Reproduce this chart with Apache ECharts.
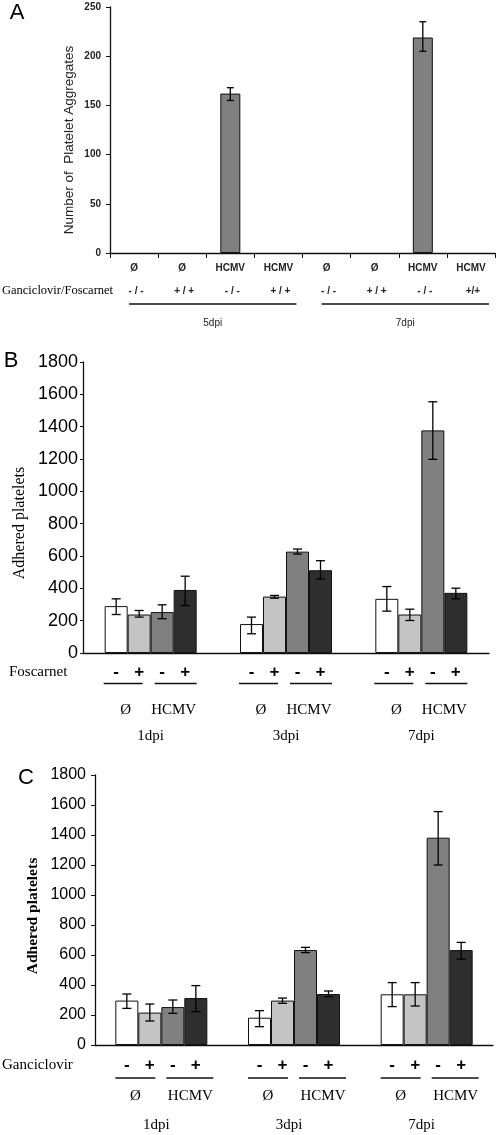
<!DOCTYPE html>
<html><head><meta charset="utf-8">
<script src="https://cdn.jsdelivr.net/npm/echarts@6/dist/echarts.min.js"></script>
<style>html,body{margin:0;padding:0;background:#fff}#c{width:500px;height:1135px}</style>
</head><body><div id="c"></div>
<script>
// ---------- Panel A data ----------
const aConditions = ['Ø','Ø','HCMV','HCMV','Ø','Ø','HCMV','HCMV'];
const aTreatments = ['- / -','+ / +','- / -','+ / +','- / -','+ / +','- / -','+/+'];
const aValues = [0,0,162,0,0,0,219,0];
const aErrLow = [null,null,155,null,null,null,205,null];
const aErrHigh = [null,null,168,null,null,null,235,null];
const aGroups = ['5dpi','7dpi'];
const aGroupCats = [[0,3],[4,7]];
const aRowLabel = 'Ganciclovir/Foscarnet';
const aYTitle = 'Number of  Platelet Aggregates';

// ---------- Panel B data ----------
const days = ['1dpi','3dpi','7dpi'];
const bNoneMinus = [290,179,335];
const bNoneMinusLow = [238,119,259];
const bNoneMinusHigh = [335,222,411];
const bNonePlus = [238,349,238];
const bNonePlusLow = [222,339,201];
const bNonePlusHigh = [263,356,271];
const bHcmvMinus = [253,627,1377];
const bHcmvMinusLow = [212,612,1198];
const bHcmvMinusHigh = [298,643,1554];
const bHcmvPlus = [390,512,372];
const bHcmvPlusLow = [294,458,335];
const bHcmvPlusHigh = [475,571,401];
const bRowLabel = 'Foscarnet';

// ---------- Panel C data ----------
const cNoneMinus = [296,182,338];
const cNoneMinusLow = [244,122,256];
const cNoneMinusHigh = [340,229,416];
const cNonePlus = [216,296,338];
const cNonePlusLow = [160,278,260];
const cNonePlusHigh = [273,313,416];
const cHcmvMinus = [253,633,1382];
const cHcmvMinusLow = [211,616,1200];
const cHcmvMinusHigh = [300,651,1556];
const cHcmvPlus = [313,340,633];
const cHcmvPlusLow = [222,322,573];
const cHcmvPlusHigh = [396,360,684];
const cRowLabel = 'Ganciclovir';

const signs = ['-','+','-','+'];
const pairLabels = ['Ø','HCMV'];
const yTitleBC = 'Adhered platelets';

// ---------- styles ----------
const SANS = '"Liberation Sans", Arial, sans-serif';
const SERIF = '"Liberation Serif", "Times New Roman", serif';
const fills = ['#ffffff','#c4c4c4','#808080','#2e2e2e'];
const BW = 23;
const offs = [-1.5,-0.5,0.5,1.5].map(k => k*BW);

function errRender(offset, cap) {
  return function (params, api) {
    const c = api.value(0);
    const x = api.coord([c, 0])[0] + offset;
    const yl = api.coord([c, api.value(1)])[1];
    const yh = api.coord([c, api.value(2)])[1];
    const s = {stroke:'#000', lineWidth:1.3};
    return {type:'group', children:[
      {type:'line', shape:{x1:x,y1:yh,x2:x,y2:yl}, style:s},
      {type:'line', shape:{x1:x-cap/2,y1:yh,x2:x+cap/2,y2:yh}, style:s},
      {type:'line', shape:{x1:x-cap/2,y1:yl,x2:x+cap/2,y2:yl}, style:s}
    ]};
  };
}
function errData(low, high) {
  const d = [];
  low.forEach((l, i) => { if (l != null) d.push([i, l, high[i]]); });
  return d;
}
// zero-height bars are drawn without an outline (nothing visible, as in the figure)
const barData = vals => vals.map(v => v === 0 ? {value:0, itemStyle:{borderWidth:0, opacity:0}} : v);

const axisLineStyle = {lineStyle:{color:'#111', width:1.3}};
const plain = v => String(v);

const bSeriesVals = [bNoneMinus,bNonePlus,bHcmvMinus,bHcmvPlus];
const bLows = [bNoneMinusLow,bNonePlusLow,bHcmvMinusLow,bHcmvPlusLow];
const bHighs = [bNoneMinusHigh,bNonePlusHigh,bHcmvMinusHigh,bHcmvPlusHigh];
const cSeriesVals = [cNoneMinus,cNonePlus,cHcmvMinus,cHcmvPlus];
const cLows = [cNoneMinusLow,cNonePlusLow,cHcmvMinusLow,cHcmvPlusLow];
const cHighs = [cNoneMinusHigh,cNonePlusHigh,cHcmvMinusHigh,cHcmvPlusHigh];

const series = [];
series.push({type:'bar', xAxisIndex:0, yAxisIndex:0, data:barData(aValues), barWidth:20,
  itemStyle:{color:'#808080', borderColor:'#111', borderWidth:1}, silent:true});
series.push({type:'custom', xAxisIndex:0, yAxisIndex:0, data:errData(aErrLow,aErrHigh),
  renderItem:errRender(0, 7), silent:true, z:5});
[[1,bSeriesVals,bLows,bHighs],[2,cSeriesVals,cLows,cHighs]].forEach(([gi, vals, lows, highs]) => {
  vals.forEach((v, k) => {
    series.push({type:'bar', xAxisIndex:gi, yAxisIndex:gi, data:barData(v), barWidth:BW, barGap:'0%',
      itemStyle:{color:fills[k], borderColor:'#111', borderWidth:1}, silent:true});
  });
  vals.forEach((v, k) => {
    series.push({type:'custom', xAxisIndex:gi, yAxisIndex:gi, data:errData(lows[k],highs[k]),
      renderItem:errRender(offs[k], 9), silent:true, z:5});
  });
});

const option = {
  animation:false,
  backgroundColor:'#fff',
  grid:[
    {left:110, top:7, width:385, height:246},
    {left:83, top:362, width:406, height:291},
    {left:95, top:775, width:398, height:270}
  ],
  xAxis:[
    {type:'category', gridIndex:0, data:aConditions, axisLine:axisLineStyle,
      axisTick:{show:true, length:5, lineStyle:{color:'#111'}},
      axisLabel:{fontFamily:SANS, fontSize:10, fontWeight:'bold', color:'#222', margin:10}},
    {type:'category', gridIndex:1, data:days, axisLine:axisLineStyle, axisTick:{show:false}, axisLabel:{show:false}},
    {type:'category', gridIndex:2, data:days, axisLine:axisLineStyle, axisTick:{show:false}, axisLabel:{show:false}}
  ],
  yAxis:[
    {type:'value', gridIndex:0, min:0, max:250, interval:50, axisLine:{show:true, ...axisLineStyle},
      axisTick:{show:true, length:4, lineStyle:{color:'#111'}}, splitLine:{show:false},
      axisLabel:{fontFamily:SANS, fontSize:10, fontWeight:'bold', color:'#222', margin:9, formatter:plain}},
    {type:'value', gridIndex:1, min:0, max:1800, interval:200, axisLine:{show:true, ...axisLineStyle},
      axisTick:{show:true, length:3, lineStyle:{color:'#111'}}, splitLine:{show:false},
      axisLabel:{fontFamily:SANS, fontSize:18, color:'#000', margin:5, formatter:plain}},
    {type:'value', gridIndex:2, min:0, max:1800, interval:200, axisLine:{show:true, ...axisLineStyle},
      axisTick:{show:true, length:4, lineStyle:{color:'#111'}}, splitLine:{show:false},
      axisLabel:{fontFamily:SANS, fontSize:16, color:'#000', margin:9, formatter:plain}}
  ],
  series:series
};

const chart = echarts.init(document.getElementById('c'), null, {renderer:'canvas'});
chart.setOption(option);

// ---------- annotations positioned from the axes ----------
const g = [];
function txt(x, y, text, font, opts) {
  g.push(Object.assign({type:'text', x:x, y:y, silent:true,
    style:Object.assign({text:text, font:font, fill:'#000', align:'center', verticalAlign:'middle'}, opts && opts.style || {})},
    opts && opts.el || {}));
}
function hline(x1, x2, y) {
  g.push({type:'line', silent:true, shape:{x1:x1,y1:y,x2:x2,y2:y}, style:{stroke:'#111', lineWidth:1.3}});
}
const px = (axis, i) => chart.convertToPixel({xAxisIndex:axis}, i);

// Panel letters
txt(17, 13, 'A', '22px ' + SANS);
txt(11, 361, 'B', '22px ' + SANS);
txt(26, 778, 'C', '22px ' + SANS);

// Panel A
txt(69, 140, aYTitle, '13.5px ' + SANS, {el:{rotation:Math.PI/2}, style:{fill:'#222'}});
txt(2, 291, aRowLabel, '12.5px ' + SERIF, {style:{align:'left'}});
aTreatments.forEach((t, i) => txt(px(0, i) + 2, 291, t, 'bold 10px ' + SANS, {style:{fill:'#222'}}));
aGroups.forEach((lab, j) => {
  const [a, b] = aGroupCats[j];
  const x1 = px(0, a) - 5, x2 = px(0, b) + 18;
  hline(x1, x2, 304);
  txt((x1 + x2) / 2, 323, lab, '10px ' + SANS, {style:{fill:'#222'}});
});

// Panels B and C
function lowerRows(axis, o) {
  txt(o.labelX, o.signY, o.rowLabel, '15px ' + SERIF, {style:{align:'left'}});
  txt(o.titleX, o.titleY, yTitleBC, o.titleFont, {el:{rotation:Math.PI/2}});
  days.forEach((d, i) => {
    const cx = px(axis, i);
    signs.forEach((s, k) => txt(cx + offs[k], o.signY, s, 'bold 17px ' + SANS));
    hline(cx + o.line1[0], cx + o.line1[1], o.lineY);
    hline(cx + o.line2[0], cx + o.line2[1], o.lineY);
    txt(cx + o.pairOff[0], o.pairY, pairLabels[0], '15px ' + SERIF);
    txt(cx + o.pairOff[1], o.pairY, pairLabels[1], '15px ' + SERIF);
    txt(cx + o.dayOff, o.dayY, d, '15px ' + SERIF);
  });
}
lowerRows(1, {labelX:9, rowLabel:bRowLabel, titleX:20, titleY:523, titleFont:'16px ' + SERIF,
  signY:672, lineY:683.5, line1:[-47,-8], line2:[4,46], pairY:710, pairOff:[-25,23], dayY:736, dayOff:0});
lowerRows(2, {labelX:2, rowLabel:cRowLabel, titleX:33, titleY:916, titleFont:'bold 15.5px ' + SERIF,
  signY:1065, lineY:1078, line1:[-46,-6], line2:[5,52], pairY:1096, pairOff:[-26,29], dayY:1125, dayOff:-5});

chart.setOption({graphic:g});
</script>
</body></html>
